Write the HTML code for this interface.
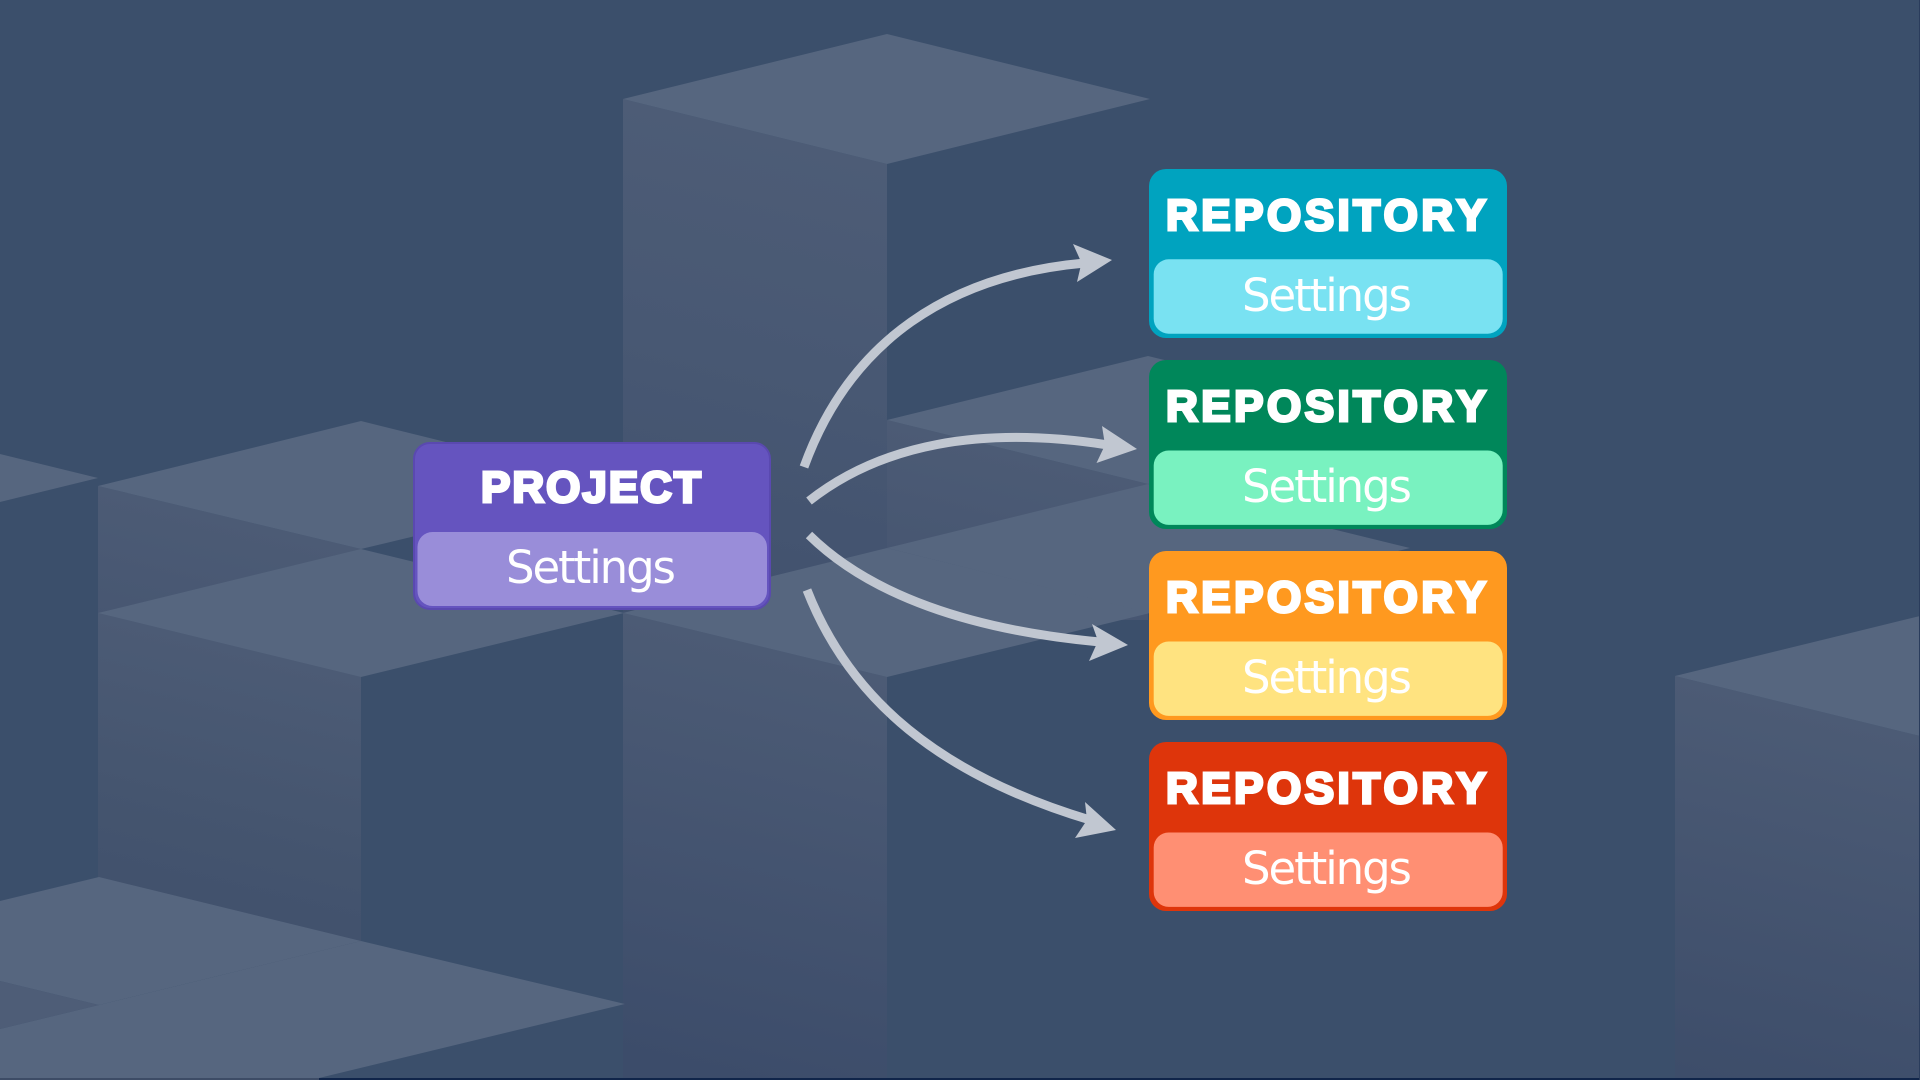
<!DOCTYPE html>
<html><head><meta charset="utf-8"><style>html,body{margin:0;padding:0;width:1920px;height:1080px;overflow:hidden;background:#3b4f6b}svg{display:block}
.h{font-family:"Liberation Sans",sans-serif;font-weight:700;font-size:44px;fill:#fff;stroke:#fff;stroke-width:3px;font-kerning:none;letter-spacing:3.5px}
.p{letter-spacing:2px}
.s{font-family:"DejaVu Sans",sans-serif;font-size:45px;fill:#fff;font-kerning:none}</style></head><body>
<svg width="1920" height="1080" viewBox="0 0 1920 1080" xmlns="http://www.w3.org/2000/svg">
<defs>
<linearGradient id="f1" gradientUnits="userSpaceOnUse" x1="623" y1="99" x2="490" y2="640"><stop offset="0" stop-color="#4d5c76"/><stop offset="0.4" stop-color="#485873"/><stop offset="1" stop-color="#3f4f6c"/></linearGradient>
<linearGradient id="f2" gradientUnits="userSpaceOnUse" x1="623" y1="613" x2="520" y2="1033"><stop offset="0" stop-color="#4c5b75"/><stop offset="1" stop-color="#3c4c6a"/></linearGradient>
<linearGradient id="f3" gradientUnits="userSpaceOnUse" x1="98" y1="613" x2="0" y2="1013"><stop offset="0" stop-color="#4c5b75"/><stop offset="0.4" stop-color="#45556f"/><stop offset="1" stop-color="#3c4c69"/></linearGradient>
<linearGradient id="f5" gradientUnits="userSpaceOnUse" x1="98" y1="486" x2="0" y2="886"><stop offset="0" stop-color="#4c5b75"/><stop offset="1" stop-color="#3c4c6a"/></linearGradient>
<linearGradient id="f6" gradientUnits="userSpaceOnUse" x1="887" y1="420" x2="789" y2="820"><stop offset="0" stop-color="#4c5b75"/><stop offset="1" stop-color="#3c4c6a"/></linearGradient>
<linearGradient id="f4" gradientUnits="userSpaceOnUse" x1="1675" y1="676" x2="1577" y2="1076"><stop offset="0" stop-color="#4c5b75"/><stop offset="1" stop-color="#3c4c69"/></linearGradient>
</defs>
<rect width="1920" height="1080" fill="#3b4f6b"/>
<polygon points="623,99 887,164 887,700 623,700" fill="url(#f1)"/>
<polygon points="887,420 1148,484 1148,620 887,620" fill="url(#f6)"/>
<polygon points="98,486 361,549 361,700 98,640" fill="url(#f5)"/>
<polygon points="98,613 361,677 361,1000 98,930" fill="url(#f3)"/>
<polygon points="623,613 887,677 887,1080 623,1080" fill="url(#f2)"/>
<polygon points="1675,676 1920,736 1920,1080 1675,1080" fill="url(#f4)"/>
<polygon points="0,981 99,1005 0,1029" fill="#4e5d77"/>
<g fill="#56667f">
<polygon points="623,99 887,34 1150,99 887,164"/>
<polygon points="887,420 1148,356 1410,420 1148,484"/>
<polygon points="1148,484 1410,548 1148,613 887,548"/>
<polygon points="623,613 887,548 1150,613 887,677"/>
<polygon points="98,486 361,421 624,486 361,549"/>
<polygon points="98,613 361,549 624,613 361,677"/>
<polygon points="0,454 98,478 0,502"/>
<polygon points="1675,676 1920,616 1920,736"/>
<polygon points="0,901 99,877 361,941 99,1005 0,981"/>
<polygon points="99,1005 361,941 625,1004 319,1078 0,1078 0,1029"/>
</g>
<rect x="0" y="1078" width="1920" height="2" fill="#10254a"/>
<rect x="0" y="1078" width="319" height="2" fill="#3d4c66"/>
<rect x="1919" y="0" width="1" height="1080" fill="#2a3c5c"/>

<g fill="none" stroke="#c1c7d1" stroke-width="9">
<path d="M804,467C850,340 950,275 1085,263"/>
<path d="M809,501C880,445 980,425 1108,445"/>
<path d="M809,535C870,595 970,630 1100,642"/>
<path d="M807,590C850,700 940,775 1090,820"/>
</g>
<g fill="#c1c7d1">
<polygon points="1112,260 1073,244 1081.5,262.7 1077,282"/>
<polygon points="1137,449 1102,426 1105,445 1096.5,463"/>
<polygon points="1128,645 1092,624 1098,641 1089,661"/>
<polygon points="1116,830 1085,802 1087,820 1075,838"/>
</g>

<rect x="414" y="443" width="356" height="166" rx="16" fill="#6554bf" stroke="#5a49b0" stroke-width="2"/>
<rect x="417.5" y="532" width="349.5" height="74" rx="15" fill="#998dd9"/>
<text class="h p" x="481" y="502">PROJECT</text>
<text class="s" x="506" y="583" textLength="170">Settings</text>

<rect x="1149" y="169" width="358" height="169" rx="17" fill="#00a3bf"/>
<rect x="1153.7" y="259.3" width="349" height="74.4" rx="15" fill="#79e2f2"/>
<text class="h" x="1166" y="230">REPOSITORY</text>
<text class="s" x="1242" y="311" textLength="170">Settings</text>

<rect x="1149" y="360" width="358" height="169" rx="17" fill="#00875a"/>
<rect x="1153.7" y="450.5" width="349" height="74.4" rx="15" fill="#79f2c0"/>
<text class="h" x="1166" y="421">REPOSITORY</text>
<text class="s" x="1242" y="502" textLength="170">Settings</text>

<rect x="1149" y="551" width="358" height="169" rx="17" fill="#ff991f"/>
<rect x="1153.7" y="641.5" width="349" height="74.4" rx="15" fill="#ffe380"/>
<text class="h" x="1166" y="612">REPOSITORY</text>
<text class="s" x="1242" y="693" textLength="170">Settings</text>

<rect x="1149" y="742" width="358" height="169" rx="17" fill="#de350b"/>
<rect x="1153.7" y="832.5" width="349" height="74.4" rx="15" fill="#ff8f73"/>
<text class="h" x="1166" y="803">REPOSITORY</text>
<text class="s" x="1242" y="884" textLength="170">Settings</text>
</svg>
</body></html>
